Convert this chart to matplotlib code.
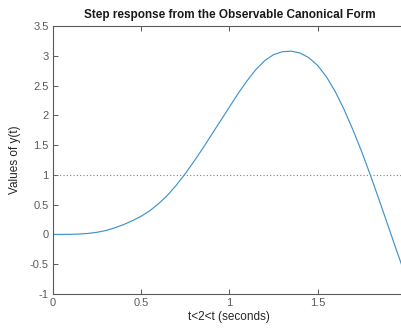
import matplotlib

matplotlib.use("Agg")
import matplotlib.pyplot as plt

# values (every 0.05 s)
t = [0.0, 0.05, 0.1, 0.15, 0.2, 0.25, 0.3, 0.35, 0.4, 0.45, 0.5, 0.55,
     0.6, 0.65, 0.7, 0.75, 0.8, 0.85, 0.9, 0.95, 1.0, 1.05, 1.1, 1.15,
     1.2, 1.25, 1.3, 1.35, 1.4, 1.45, 1.5, 1.55, 1.6, 1.65, 1.7, 1.75,
     1.8, 1.85, 1.9, 1.95, 2.0]
y = [0.0, 0.0, 0.002, 0.007, 0.017, 0.036, 0.066, 0.11, 0.165, 0.23, 0.305,
     0.40, 0.52, 0.66, 0.83, 1.02, 1.23, 1.45, 1.68, 1.91, 2.14, 2.37,
     2.58, 2.77, 2.92, 3.02, 3.07, 3.08, 3.05, 2.97, 2.84, 2.65, 2.40,
     2.10, 1.76, 1.39, 0.99, 0.57, 0.14, -0.29, -0.71]
ref_level = 1.0

xticks = [0, 0.5, 1, 1.5, 2]
yticks = [-1, -0.5, 0, 0.5, 1, 1.5, 2, 2.5, 3, 3.5]

plt.rcParams["font.family"] = ["Liberation Sans", "DejaVu Sans"]
axcol = "#5a5a5a"

fig = plt.figure(figsize=(4.01, 3.31), dpi=100)
ax = fig.add_axes([0.132, 0.112, 0.880, 0.809])

ax.plot(t, y, color="#3f94cc", lw=0.85)
ax.axhline(ref_level, color="#808080", lw=0.8, ls=(0, (1, 2)))

ax.set_xlim(0, 2)
ax.set_ylim(-1, 3.5)
ax.set_xticks(xticks)
ax.set_xticklabels(["0", "0.5", "1", "1.5", "2"])
ax.set_yticks(yticks)
ax.set_yticklabels(["-1", "-0.5", "0", "0.5", "1", "1.5", "2", "2.5", "3", "3.5"])

ax.tick_params(direction="in", length=3.5, width=0.7, colors=axcol,
               labelsize=8, top=True, right=True, pad=3)
for sp in ax.spines.values():
    sp.set_color(axcol)
    sp.set_linewidth(0.8)

ax.set_title("Step response from the Observable Canonical Form",
             fontsize=8.5, fontweight="bold", color="#1a1a1a", pad=6)
ax.set_xlabel("t<2<t (seconds)", fontsize=8.5, color="#262626", labelpad=2)
ax.set_ylabel("Values of y(t)", fontsize=8.5, color="#262626", labelpad=6)

fig.savefig("out.png", dpi=100)
